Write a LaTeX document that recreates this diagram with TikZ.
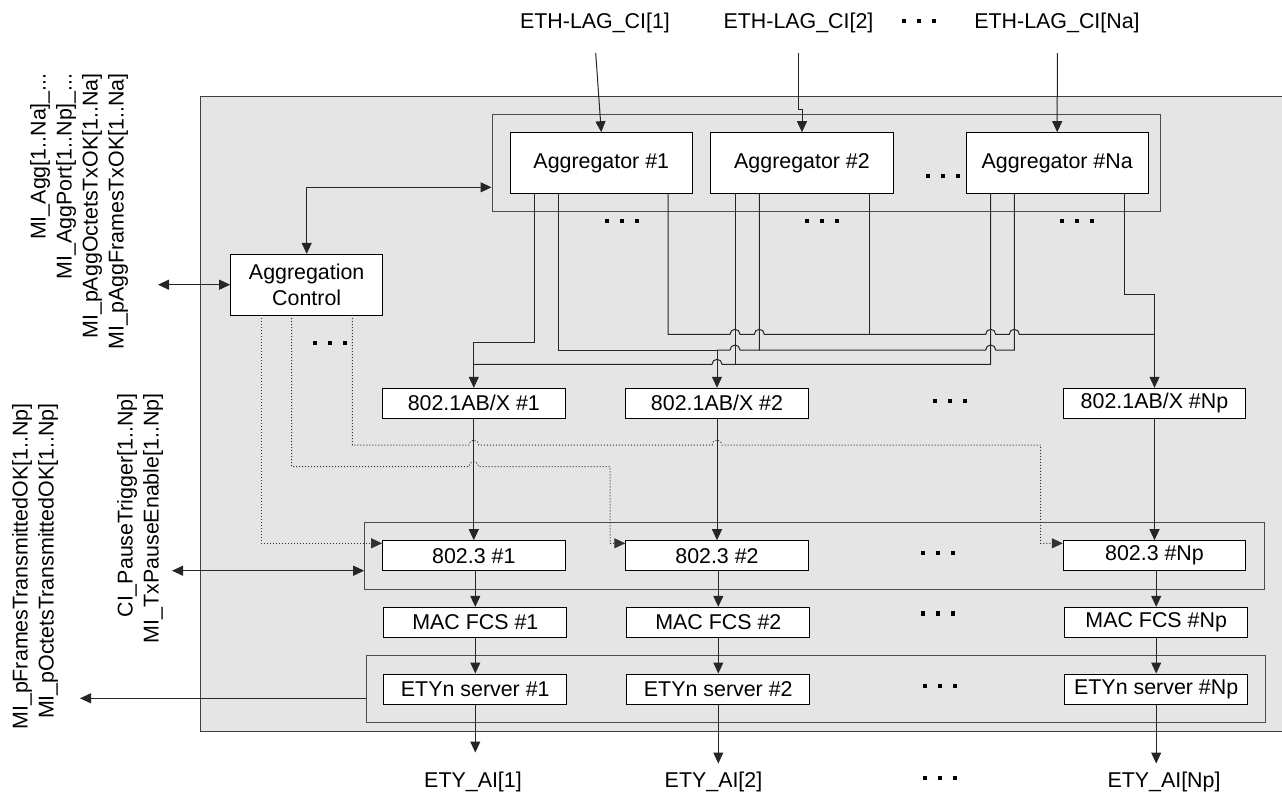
\documentclass[tikz,border=0pt]{standalone}
\usepackage{fontspec}
\setmainfont{Liberation Sans}
\usetikzlibrary{arrows.meta,calc}
\definecolor{bggray}{RGB}{229,229,229}
\newcommand{\sqd}{\rule{2.2pt}{2.2pt}\hspace{5.3pt}\rule{2.2pt}{2.2pt}\hspace{5.3pt}\rule{2.2pt}{2.2pt}}
\begin{document}
\begin{tikzpicture}[x=0.5pt,y=-0.5pt,
  font=\fontsize{10.7}{13}\selectfont,
  >={Triangle[length=5.5pt,width=5pt]},
  wire/.style={draw=black!85,line width=0.5pt},
  ctl/.style={draw=black!80,line width=0.5pt,densely dotted},
  aggbox/.style={draw=black,fill=white,line width=0.5pt,inner sep=0pt,minimum width=91.15pt,minimum height=30.3pt},
  portbox/.style={draw=black,fill=white,line width=0.5pt,inner sep=0pt,minimum width=91.2pt,minimum height=15pt},
  grpbox/.style={draw=black!70,line width=0.5pt,inner sep=0pt},
  lbl/.style={inner sep=0pt},
  sqdots/.style={inner sep=0pt},
  rlbl/.style={inner sep=0pt,rotate=90,anchor=east,align=right}]
\useasboundingbox (0,0) rectangle (1282,794);
% main shaded area
\fill[bggray] (200,96) rectangle (1282,731.7);
\draw[black!75,line width=0.5pt] (1282,96) -- (200,96) -- (200,731.7) -- (1282,731.7);

% group boxes
\node[grpbox,minimum width=334.25pt,minimum height=48.25pt] (aggGrp) at (826.25,162.75) {};
\node[grpbox,minimum width=449.65pt,minimum height=33.35pt] (pGrp) at (814.35,555.65) {};
\node[grpbox,minimum width=449.85pt,minimum height=33.3pt] (eGrp) at (815.85,689) {};

% aggregators
\node[aggbox] (agg1) at (601.3,163) {Aggregator \#1};
\node[aggbox] (agg2) at (802,163) {Aggregator \#2};
\node[aggbox] (aggN) at (1057.2,163) {Aggregator \#Na};
\node[aggbox,minimum width=76pt,minimum height=30.35pt,align=center] (ac) at (306.7,284.7) {Aggregation\\Control};

% port rows
\node[portbox] (x1) at (473.8,403.3) {802.1AB/X \#1};
\node[portbox] (x2) at (717,403.3) {802.1AB/X \#2};
\node[portbox] (xN) at (1154.5,403.3) {802.1AB/X \#Np};
\node[portbox] (p1) at (473.8,555.7) {802.3 \#1};
\node[portbox] (p2) at (717,555.7) {802.3 \#2};
\node[portbox] (pN) at (1154.5,555.7) {802.3 \#Np};
\node[portbox,minimum width=91.5pt] (m1) at (475.3,622.3) {MAC FCS \#1};
\node[portbox,minimum width=91.5pt] (m2) at (718.3,622.3) {MAC FCS \#2};
\node[portbox,minimum width=91.5pt] (mN) at (1156.2,622.3) {MAC FCS \#Np};
\node[portbox,minimum width=91.5pt] (e1) at (475.3,689) {ETYn server \#1};
\node[portbox,minimum width=91.5pt] (e2) at (718.3,689) {ETYn server \#2};
\node[portbox,minimum width=91.5pt] (eN) at (1156.2,689) {ETYn server \#Np};

% top and bottom labels
\node[lbl] (t1) at (595,23) {ETH-LAG\_CI[1]};
\node[lbl] (t2) at (798.5,23) {ETH-LAG\_CI[2]};
\node[lbl] (tN) at (1057,23) {ETH-LAG\_CI[Na]};
\node[lbl] (b1) at (473,782) {ETY\_AI[1]};
\node[lbl] (b2) at (713.5,782) {ETY\_AI[2]};
\node[lbl] (bN) at (1164,782) {ETY\_AI[Np]};

% left rotated labels
\node[rlbl] (L1) at (79,73) {MI\_Agg[1..Na]\_...\\MI\_AggPort[1..Np]\_...\\MI\_pAggOctetsTxOK[1..Na]\\MI\_pAggFramesTxOK[1..Na]};
\node[rlbl] (L2) at (140,393) {CI\_PauseTrigger[1..Np]\\MI\_TxPauseEnable[1..Np]};
\node[rlbl] (L3) at (35,403) {MI\_pFramesTransmittedOK[1..Np]\\MI\_pOctetsTransmittedOK[1..Np]};

% dots
\node[sqdots] (d0) at (919,21) {\sqd};
\node[sqdots] (d1) at (943,175.7) {\sqd};
\node[sqdots] (d2) at (622,221) {\sqd};
\node[sqdots] (d3) at (822,221) {\sqd};
\node[sqdots] (d4) at (1077,221) {\sqd};
\node[sqdots] (d5) at (330,342.7) {\sqd};
\node[sqdots] (d6) at (950,401) {\sqd};
\node[sqdots] (d7) at (938,552.7) {\sqd};
\node[sqdots] (d8) at (938,613.3) {\sqd};
\node[sqdots] (d9) at (939.7,686) {\sqd};
\node[sqdots] (d10) at (939.7,777.7) {\sqd};

% coordinates
\coordinate (s1) at (595.7,53);
\coordinate (s2) at (798.7,53);
\coordinate (s3) at (1057.3,53);
\coordinate (cAC) at (158,284.7);
\coordinate (cP) at (172,570.7);
\coordinate (cE) at (80,698.3);
\coordinate (hy) at (0,187.3);
\coordinate (yc) at (0,543.3);
\coordinate (o11) at (534.7,193.3);
\coordinate (o12) at (558.7,193.3);
\coordinate (o13) at (668,193.3);
\coordinate (o21) at (735,193.3);
\coordinate (o22) at (759.3,193.3);
\coordinate (o23) at (869,193.3);
\coordinate (o31) at (990.7,193.3);
\coordinate (o32) at (1014.3,193.3);
\coordinate (o33) at (1124,193.3);
\coordinate (c1) at (261,315);
\coordinate (c2) at (291.7,315);
\coordinate (c3) at (352.3,315);

% inputs
\draw[wire,->] (s1) -- (agg1.north);
\draw[wire,->] (s2) -- (798.7,109) -| (agg2.north);
\draw[wire,->] (s3) -- (aggN.north);

% external interfaces
\draw[wire,<->] (cAC) -- (ac.west);
\draw[wire,<->] (ac.north) |- (aggGrp.west |- hy);
\draw[wire,<->] (cP) -- (cP -| pGrp.west);
\draw[wire,->] (cE -| eGrp.west) -- (cE);

% aggregator -> port 1
\draw[wire,->] (o11) |- (473.8,342.3) -- (x1.north);
\draw[wire] (o21) -- (735,364.3);
\draw[wire] (o31) -- (990.7,364.3) -- (722,364.3) arc[start angle=0,end angle=-180,radius=5] -- (473.8,364.3);
% aggregator -> port 2
\draw[wire] (o12) |- (717,350);
\draw[wire] (o22) |- (740,350) arc[start angle=0,end angle=-180,radius=5] -- (717,350);
\draw[wire] (o32) |- (995.7,350) arc[start angle=0,end angle=-180,radius=5] -- (759.3,350);
\draw[wire,->] (717,350) -- (x2.north);
% aggregator -> port Np
\draw[wire] (o13) |- (730,334.3) arc[start angle=180,end angle=360,radius=5]
  -- (754.3,334.3) arc[start angle=180,end angle=360,radius=5]
  -- (985.7,334.3) arc[start angle=180,end angle=360,radius=5]
  -- (1009.3,334.3) arc[start angle=180,end angle=360,radius=5]
  -- (1154.5,334.3);
\draw[wire] (o23) -- (869,334.3);
\draw[wire,->] (o33) |- (1154.5,294.3) -- (xN.north);

% control (dotted) lines
\draw[ctl,->] (c1) |- (p1.west |- yc);
\draw[ctl,->] (c2) |- (468.8,466.7) arc[start angle=180,end angle=360,radius=5] -- (610,466.7) |- (p2.west |- yc);
\draw[ctl,->] (c3) |- (468.8,445) arc[start angle=180,end angle=360,radius=5]
  -- (712,445) arc[start angle=180,end angle=360,radius=5] -- (1040.7,445) |- (pN.west |- yc);

% vertical chains
\draw[wire,->] (x1.south) -- (p1.north);
\draw[wire,->] (x2.south) -- (p2.north);
\draw[wire,->] (xN.south) -- (pN.north);
\draw[wire,->] (p1.south -| m1.north) -- (m1.north);
\draw[wire,->] (p2.south -| m2.north) -- (m2.north);
\draw[wire,->] (pN.south -| mN.north) -- (mN.north);
\draw[wire,->] (m1.south) -- (e1.north);
\draw[wire,->] (m2.south) -- (e2.north);
\draw[wire,->] (mN.south) -- (eN.north);
\draw[wire,->] (e1.south) -- ++(0,48);
\draw[wire,->] (e2.south) -- ++(0,59);
\draw[wire,->] (eN.south) -- ++(0,59);
\end{tikzpicture}
\end{document}
